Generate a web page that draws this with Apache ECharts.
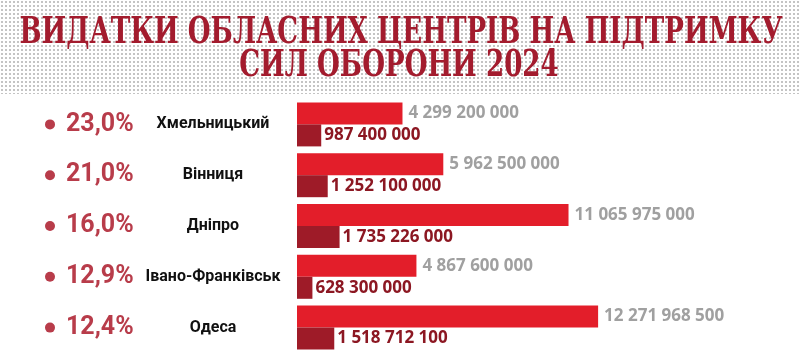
<!DOCTYPE html>
<html>
<head>
<meta charset="utf-8">
<script src="https://cdn.jsdelivr.net/npm/echarts@6/dist/echarts.min.js"></script>
<style>
  html, body { margin: 0; padding: 0; background: #fff; }
  #chart { width: 800px; height: 353px; }
</style>
</head>
<body>
<div id="chart"></div>
<script>
  // дані з інфографіки
  const cities = ['Хмельницький', 'Вінниця', 'Дніпро', 'Івано-Франківськ', 'Одеса'];
  const shares = ['23,0%', '21,0%', '16,0%', '12,9%', '12,4%'];
  const totalBudget = [4299200000, 5962500000, 11065975000, 4867600000, 12271968500];
  const defenseSpend = [987400000, 1252100000, 1735226000, 628300000, 1518712100];

  const titleLines = ['ВИДАТКИ ОБЛАСНИХ ЦЕНТРІВ НА ПІДТРИМКУ', 'СИЛ ОБОРОНИ 2024'];

  function fmt(v) {
    return String(v).replace(/\B(?=(\d{3})+(?!\d))/g, ' ');
  }

  // точковий фон під заголовком
  const dots = document.createElement('canvas');
  dots.width = 4;
  dots.height = 4;
  const dctx = dots.getContext('2d');
  dctx.fillStyle = '#c4c4c4';
  dctx.fillRect(1, 1, 2, 2);

  const titleStyle = {
    fontFamily: 'DejaVu Serif Condensed',
    fontWeight: 'bold',
    fontSize: 38,
    fill: '#a31c2e',
    align: 'center',
    verticalAlign: 'middle'
  };

  const chart = echarts.init(document.getElementById('chart'));

  chart.setOption({
    backgroundColor: '#fff',
    animation: false,
    graphic: [{
      type: 'rect',
      z: -10,
      shape: { x: 0, y: 0, width: 800, height: 94 },
      style: { fill: { image: dots, repeat: 'repeat' } },
      silent: true
    }, {
      type: 'text',
      x: 401,
      y: 33,
      scaleX: 0.765,
      style: Object.assign({ text: titleLines[0] }, titleStyle),
      silent: true
    }, {
      type: 'text',
      x: 399,
      y: 66,
      scaleX: 0.765,
      style: Object.assign({ text: titleLines[1] }, titleStyle),
      silent: true
    }],
    grid: {
      left: 297,
      right: 0,
      top: 99,
      height: 257
    },
    xAxis: {
      type: 'value',
      min: 0,
      max: 20500000000,
      show: false
    },
    yAxis: {
      type: 'category',
      data: cities,
      inverse: true,
      axisLine: { show: false },
      axisTick: { show: false },
      splitLine: { show: false },
      axisLabel: {
        align: 'left',
        margin: 252,
        formatter: function (value, idx) {
          return '{dot| }{gap| }{pct|' + shares[idx] + '}{city|' + value + '}';
        },
        rich: {
          dot: { width: 10, height: 10, borderRadius: 5, backgroundColor: '#b83c4a' },
          gap: { width: 11 },
          pct: {
            width: 82,
            align: 'left',
            fontFamily: 'Roboto',
            fontWeight: 'bold',
            fontSize: 25,
            color: '#b83c4a'
          },
          city: {
            width: 130,
            align: 'center',
            fontFamily: 'Roboto',
            fontWeight: 'bold',
            fontSize: 16,
            color: '#111'
          }
        }
      }
    },
    series: [{
      name: 'Видатки',
      type: 'bar',
      data: totalBudget,
      barWidth: 22,
      barGap: '0%',
      itemStyle: { color: '#e31e2a' },
      label: {
        show: true,
        position: 'right',
        distance: 6,
        formatter: function (p) { return fmt(p.value); },
        fontFamily: 'Open Sans',
        fontWeight: 'bold',
        fontSize: 17,
        color: '#a0a0a0'
      }
    }, {
      name: 'Підтримка Сил оборони',
      type: 'bar',
      data: defenseSpend,
      barWidth: 22,
      barGap: '0%',
      itemStyle: { color: '#9e1b28' },
      label: {
        show: true,
        position: 'right',
        distance: 3,
        formatter: function (p) { return fmt(p.value); },
        fontFamily: 'Open Sans',
        fontWeight: 'bold',
        fontSize: 17,
        color: '#8c1722'
      }
    }]
  });
</script>
</body>
</html>
